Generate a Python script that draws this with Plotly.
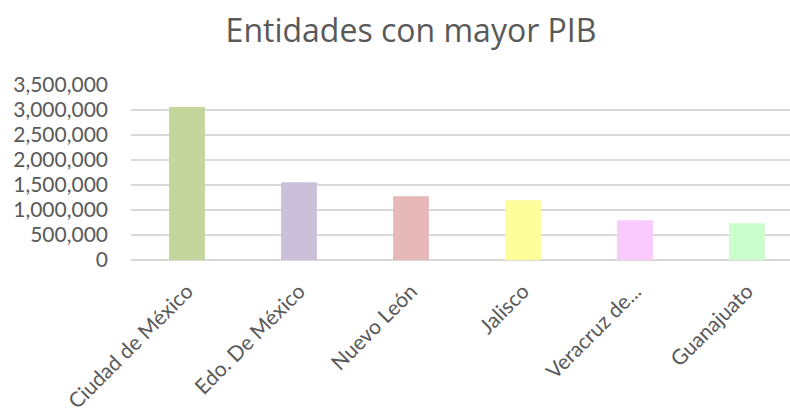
import plotly.graph_objects as go

categories = ["Ciudad de México", "Edo. De México", "Nuevo León", "Jalisco", "Veracruz de...", "Guanajuato"]
pib = [3060000, 1557000, 1276000, 1196000, 796000, 735000]
colors = ["#c4d69b", "#cbc0da", "#e6b8b8", "#fdfd99", "#fbcafd", "#ccfdcc"]
y_ticks = [0, 500000, 1000000, 1500000, 2000000, 2500000, 3000000, 3500000]

W, H = 790, 414
ML, MR, MT, MB = 131, 0, 85, 154

FONT = "Lato"
GRAY = "#595959"

fig = go.Figure()
fig.add_trace(go.Bar(
    x=categories, y=pib, marker=dict(color=colors, line=dict(width=0)),
    showlegend=False, hoverinfo="x+y",
))

fig.update_layout(
    width=W, height=H,
    margin=dict(l=ML, r=MR, t=MT, b=MB, pad=0, autoexpand=False),
    paper_bgcolor="white", plot_bgcolor="white",
    title=dict(text="Entidades con mayor PIB", x=(411 / W), xanchor="center",
               y=1 - 31 / H, yanchor="middle",
               font=dict(family="Open Sans", size=32, color=GRAY)),
    bargap=0.68,
    xaxis=dict(range=[-0.5, 5.384], showgrid=False, zeroline=False,
               showline=False, ticks="", tickangle=-45, automargin=False,
               tickfont=dict(family=FONT, size=21, color=GRAY),
               ticklabelstandoff=14, fixedrange=True),
    yaxis=dict(range=[0, 3500000], tickvals=y_ticks, tickformat=",d",
               showgrid=True, gridcolor="#d9d9d9", gridwidth=1.5,
               zeroline=True, zerolinecolor="#d9d9d9", zerolinewidth=1.5,
               showline=False, ticks="", automargin=False,
               tickfont=dict(family=FONT, size=21, color=GRAY),
               ticklabelstandoff=22, fixedrange=True),
)

fig.write_html("out.html", config={"displayModeBar": False},
               post_script="document.body.style.margin='0';")
